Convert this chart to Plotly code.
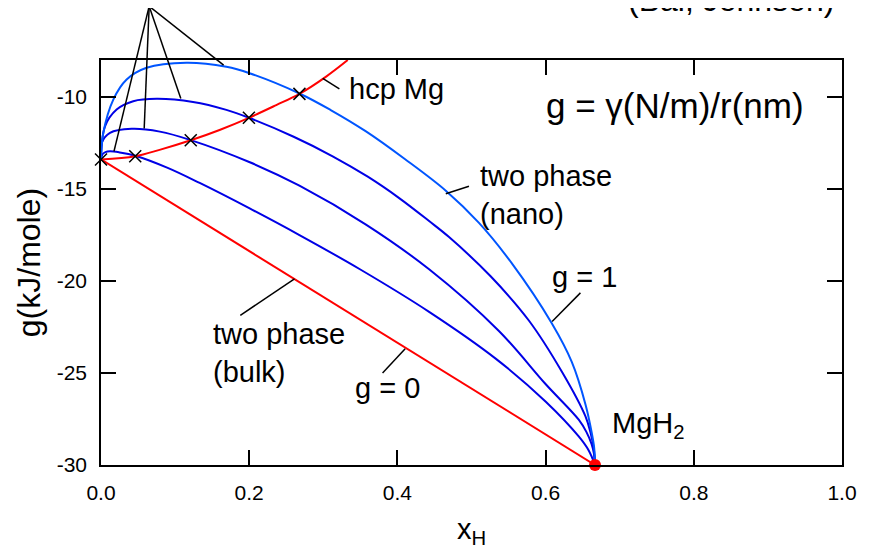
import plotly.graph_objects as go

# ---------------- data ----------------
x_ticks = [0.0, 0.2, 0.4, 0.6, 0.8, 1.0]
x_ticktext = ["0.0", "0.2", "0.4", "0.6", "0.8", "1.0"]
y_ticks = [-30, -25, -20, -15, -10]
y_ticktext = ["-30", "-25", "-20", "-15", "-10"]

# bulk two-phase line (g = 0)
bulk_x = [0.0, 0.6667]
bulk_y = [-13.4, -30.0]

# hcp Mg free-energy curve
hcp_x = [0.0, 0.0462, 0.079, 0.1211, 0.160, 0.1996, 0.2365, 0.2678, 0.3038, 0.333]
hcp_y = [-13.4, -13.23, -12.88, -12.36, -11.8, -11.14, -10.45, -9.84, -8.9, -8.0]

# nano two-phase curves (increasing g)
c1_x = [0.0, 0.002, 0.006, 0.0121, 0.025, 0.0462, 0.09, 0.1332, 0.2, 0.2678, 0.35, 0.4428, 0.5326, 0.5999, 0.6447, 0.658, 0.6667]
c1_y = [-13.4, -13.12, -13.0, -12.96, -13.02, -13.2, -13.86, -14.68, -16.05, -17.51, -19.38, -21.68, -24.22, -26.55, -28.45, -29.2, -30.0]

c2_x = [0.0, 0.001, 0.0121, 0.0413, 0.0794, 0.1211, 0.2, 0.2678, 0.3576, 0.4428, 0.537, 0.5999, 0.6447, 0.655, 0.662, 0.6655, 0.6667]
c2_y = [-13.4, -12.5, -11.96, -11.74, -11.89, -12.35, -13.54, -14.83, -16.94, -19.37, -22.72, -25.6, -27.54, -28.2, -28.86, -29.43, -30.0]

c3_x = [0.0, 0.0054, 0.0211, 0.0435, 0.075, 0.1242, 0.1692, 0.1996, 0.26, 0.3126, 0.36, 0.4024, 0.4428, 0.4697, 0.5258, 0.5774, 0.6222, 0.6537, 0.661, 0.665, 0.6667]
c3_y = [-13.4, -11.6, -10.69, -10.24, -10.11, -10.28, -10.71, -11.14, -12.17, -13.23, -14.34, -15.5, -16.75, -17.62, -19.75, -22.15, -24.95, -27.35, -28.3, -29.1, -30.0]

c4_x = [0.0, 0.0031, 0.0166, 0.0346, 0.0615, 0.1153, 0.1692, 0.2005, 0.2678, 0.31, 0.3576, 0.41, 0.4653, 0.5101, 0.5545, 0.6083, 0.6353, 0.6541, 0.6625, 0.6655, 0.6667]
c4_y = [-13.4, -11.96, -10.15, -9.06, -8.42, -8.15, -8.37, -8.72, -9.82, -10.72, -11.88, -13.38, -15.1, -16.85, -19.05, -22.3, -24.4, -26.75, -28.3, -29.05, -30.0]

# common-tangent points (x marks)
tan_x = [0.0, 0.0462, 0.1211, 0.1996, 0.2678]
tan_y = [-13.4, -13.23, -12.36, -11.14, -9.84]

# MgH2 point
mgh2_x = [0.6667]
mgh2_y = [-30.0]

XR = [0.0, 1.0]
YR = [-30.0, -8.0]

RED = "#FF0000"
DARK = "#0000E6"
LIGHT = "#0055FF"
FONT = "Liberation Sans, Arial, sans-serif"

fig = go.Figure()

fig.add_trace(go.Scatter(x=bulk_x, y=bulk_y, mode="lines", line=dict(color=RED, width=2)))
for cx, cy, col in [(c1_x, c1_y, DARK), (c2_x, c2_y, DARK), (c3_x, c3_y, DARK), (c4_x, c4_y, LIGHT)]:
    fig.add_trace(go.Scatter(x=cx, y=cy, mode="lines",
                             line=dict(color=col, width=2, shape="spline", smoothing=1.0)))
fig.add_trace(go.Scatter(x=hcp_x, y=hcp_y, mode="lines",
                         line=dict(color=RED, width=2, shape="spline", smoothing=1.0)))
fig.add_trace(go.Scatter(x=tan_x, y=tan_y, mode="markers", cliponaxis=False,
                         marker=dict(symbol="x-thin", size=12, line=dict(color="black", width=1.5))))
fig.add_trace(go.Scatter(x=mgh2_x, y=mgh2_y, mode="markers", cliponaxis=False,
                         marker=dict(symbol="circle", size=12, color=RED)))


def px(x):
    return (x - XR[0]) / (XR[1] - XR[0])


def py(y):
    return (y - YR[0]) / (YR[1] - YR[0])


shapes = []


def seg(x0, y0, x1, y1):
    shapes.append(dict(type="line", xref="paper", yref="paper",
                       x0=px(x0), y0=py(y0), x1=px(x1), y1=py(y1),
                       line=dict(color="black", width=1.5)))


# fan of pointer lines to the nano curves
fan_origin = (0.065, -5.08)
for ex, ey in [(0.0175, -12.96), (0.0583, -11.72), (0.1077, -10.09), (0.1655, -8.28)]:
    seg(fan_origin[0], fan_origin[1], ex, ey)

seg(0.2992, -9.0, 0.3217, -9.57)      # hcp Mg
seg(0.4653, -15.27, 0.4966, -14.86)   # two phase (nano)
seg(0.6088, -22.2, 0.647, -20.65)     # g = 1
seg(0.188, -21.87, 0.2611, -19.89)    # two phase (bulk)
seg(0.38, -25.0, 0.4105, -23.68)      # g = 0

ann = []


def label(x, y, text, size=29):
    ann.append(dict(x=x, y=y, xref="x", yref="y", text=text, showarrow=False,
                    xanchor="left", yanchor="middle", align="left",
                    font=dict(family=FONT, size=size, color="black")))


label(0.3324, -9.6, "hcp Mg")
label(0.5976, -10.47, "g = γ(N/m)/r(nm)", size=35)
label(0.5092, -15.36, "two phase<br>(nano)")
label(0.6066, -19.77, "g = 1")
label(0.149, -23.9, "two phase<br>(bulk)")
label(0.3396, -25.8, "g = 0")
label(0.6873, -27.8, "MgH<sub>2</sub>")

ann.append(dict(x=0.708, y=1.098, xref="paper", yref="paper", text="(Bai, Johnson)",
                showarrow=False, xanchor="left", yanchor="bottom",
                font=dict(family=FONT, size=32, color="black")))

axis_common = dict(showline=True, linecolor="black", linewidth=1.5, mirror="ticks",
                   ticks="inside", ticklen=15, tickwidth=1.5, tickcolor="black",
                   showgrid=False, zeroline=False,
                   tickfont=dict(family=FONT, size=21, color="black"))

fig.update_layout(
    width=861, height=545, autosize=False,
    margin=dict(l=93, r=25, t=52, b=88),
    paper_bgcolor="white", plot_bgcolor="white",
    showlegend=False,
    shapes=shapes, annotations=ann,
    xaxis=dict(range=XR, tickvals=x_ticks, ticktext=x_ticktext, ticklabelstandoff=8,
               title=dict(text="x<sub>H</sub>", font=dict(family=FONT, size=29, color="black"), standoff=16),
               **axis_common),
    yaxis=dict(range=YR, tickvals=y_ticks, ticktext=y_ticktext, ticklabelstandoff=8,
               title=dict(text="g(kJ/mole)", font=dict(family=FONT, size=32, color="black"), standoff=6),
               **axis_common),
)

fig.write_html("out.html")
